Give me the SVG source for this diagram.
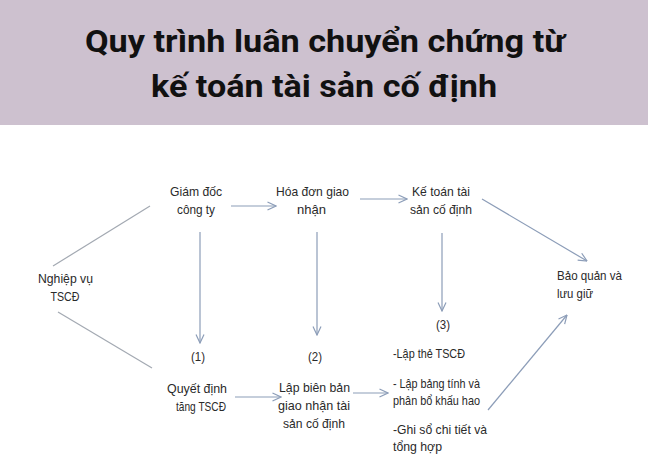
<svg xmlns="http://www.w3.org/2000/svg" width="648" height="470" viewBox="0 0 648 470">
<style>
.t{font-family:"Liberation Sans",Arial,sans-serif;font-size:12.4px;fill:#2a2a2a;text-anchor:middle}
.l{text-anchor:start}
.h{font-family:Roboto,"Liberation Sans",sans-serif;font-weight:bold;font-size:32px;fill:#111;text-anchor:middle}
.c{stroke:#8c9db8;stroke-width:1.2;fill:none}
.g{stroke:#a3a9b2;stroke-width:1.2;fill:none}
</style>
<defs>
<marker id="a" viewBox="0 0 10 10" refX="9.5" refY="5" markerWidth="10" markerHeight="10" markerUnits="userSpaceOnUse" orient="auto">
<path d="M1,1 L9.5,5 L1,9" fill="none" stroke="#8c9db8" stroke-width="1.2"/>
</marker>
</defs>
<rect x="0" y="0" width="648" height="125" fill="#cdc1cf"/>
<g id="title">
<text class="h" x="325" y="52" textLength="480" lengthAdjust="spacingAndGlyphs">Quy trình luân chuyển chứng từ</text>
<text class="h" x="324" y="97" textLength="346" lengthAdjust="spacingAndGlyphs">kế toán tài sản cố định</text>
</g>
<g id="connectors">
<line class="g" x1="53" y1="266" x2="150" y2="206"/>
<line class="g" x1="58" y1="312" x2="152" y2="368"/>
<line class="c" x1="231" y1="206" x2="276" y2="206" marker-end="url(#a)"/>
<line class="c" x1="360" y1="199" x2="407" y2="199" marker-end="url(#a)"/>
<line class="c" x1="482" y1="199" x2="587" y2="261" marker-end="url(#a)"/>
<line class="c" x1="200" y1="232" x2="200" y2="343" marker-end="url(#a)"/>
<line class="c" x1="317" y1="232" x2="317" y2="335" marker-end="url(#a)"/>
<line class="c" x1="442" y1="233" x2="442" y2="311" marker-end="url(#a)"/>
<line class="c" x1="235" y1="397" x2="281" y2="397" marker-end="url(#a)"/>
<line class="c" x1="353" y1="393" x2="388" y2="393" marker-end="url(#a)"/>
<line class="c" x1="488" y1="410" x2="567" y2="315" marker-end="url(#a)"/>
</g>
<g id="nghiep-vu">
<text class="t" x="65.5" y="283" textLength="55" lengthAdjust="spacingAndGlyphs">Nghiệp vụ</text>
<text class="t" x="65" y="301" textLength="29" lengthAdjust="spacingAndGlyphs">TSCĐ</text>
</g>
<g id="giam-doc">
<text class="t" x="196" y="196" textLength="52" lengthAdjust="spacingAndGlyphs">Giám đốc</text>
<text class="t" x="196" y="214" textLength="38" lengthAdjust="spacingAndGlyphs">công ty</text>
</g>
<g id="hoa-don">
<text class="t" x="312.5" y="196" textLength="73" lengthAdjust="spacingAndGlyphs">Hóa đơn giao</text>
<text class="t" x="311.5" y="214" textLength="29" lengthAdjust="spacingAndGlyphs">nhận</text>
</g>
<g id="ke-toan">
<text class="t" x="441" y="196" textLength="58" lengthAdjust="spacingAndGlyphs">Kế toán tài</text>
<text class="t" x="441" y="214" textLength="62" lengthAdjust="spacingAndGlyphs">sản cố định</text>
</g>
<g id="bao-quan">
<text class="t l" x="557" y="280" textLength="65" lengthAdjust="spacingAndGlyphs">Bảo quản và</text>
<text class="t l" x="557" y="298" textLength="36" lengthAdjust="spacingAndGlyphs">lưu giữ</text>
</g>
<g id="quyet-dinh">
<text class="t" x="198" y="361" textLength="14" lengthAdjust="spacingAndGlyphs">(1)</text>
<text class="t" x="197" y="393" textLength="60" lengthAdjust="spacingAndGlyphs">Quyết định</text>
<text class="t" x="201" y="411" textLength="50" lengthAdjust="spacingAndGlyphs">tăng TSCĐ</text>
</g>
<g id="lap-bien-ban">
<text class="t" x="315" y="361" textLength="14" lengthAdjust="spacingAndGlyphs">(2)</text>
<text class="t" x="314.5" y="392" textLength="71" lengthAdjust="spacingAndGlyphs">Lập biên bản</text>
<text class="t" x="314" y="410" textLength="72" lengthAdjust="spacingAndGlyphs">giao nhận tài</text>
<text class="t" x="314" y="428" textLength="62" lengthAdjust="spacingAndGlyphs">sản cố định</text>
</g>
<g id="so-sach">
<text class="t" x="443" y="329" textLength="14" lengthAdjust="spacingAndGlyphs">(3)</text>
<text class="t l" x="393" y="358" textLength="72" lengthAdjust="spacingAndGlyphs">-Lập thẻ TSCĐ</text>
<text class="t l" x="393" y="388" textLength="87" lengthAdjust="spacingAndGlyphs">- Lập bảng tính và</text>
<text class="t l" x="393" y="405" textLength="87" lengthAdjust="spacingAndGlyphs">phân bổ khấu hao</text>
<text class="t l" x="393" y="434" textLength="94" lengthAdjust="spacingAndGlyphs">-Ghi sổ chi tiết và</text>
<text class="t l" x="393" y="451" textLength="49" lengthAdjust="spacingAndGlyphs">tổng hợp</text>
</g>
</svg>
